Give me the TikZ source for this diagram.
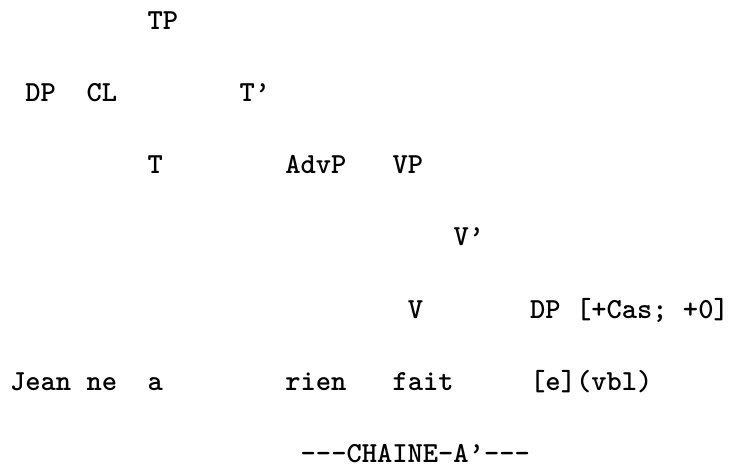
\documentclass[tikz,border=0pt]{standalone}
\begin{document}
\begin{tikzpicture}[x=1pt,y=1pt,
  lbl/.style={anchor=base west, inner sep=0pt, outer sep=0pt,
    font=\ttfamily\bfseries\fontsize{29.1}{30}\selectfont}]
  \path[use as bounding box] (0,0) rectangle (730,-470);
  % columns on a 15.3pt character grid, rows 72pt apart
  \node[lbl] (tp)    at (147.7,-30)  {TP};
  \node[lbl] (dp)    at (25.3,-102)  {DP};
  \node[lbl] (cl)    at (86.5,-102)  {CL};
  \node[lbl] (tbar)  at (239.5,-102) {T’};
  \node[lbl] (t)     at (147.7,-174) {T};
  \node[lbl] (advp)  at (285.4,-174) {AdvP};
  \node[lbl] (vp)    at (392.5,-174) {VP};
  \node[lbl] (vbar)  at (453.7,-246) {V’};
  \node[lbl] (v)     at (407.8,-318) {V};
  \node[lbl] (dpobj) at (530.2,-318) {DP [+Cas; +0]};
  \node[lbl] (jean)  at (10,-390)    {Jean};
  \node[lbl] (ne)    at (86.5,-390)  {ne};
  \node[lbl] (a)     at (147.7,-390) {a};
  \node[lbl] (rien)  at (285.4,-390) {rien};
  \node[lbl] (fait)  at (392.5,-390) {fait};
  \node[lbl] (trace) at (530.2,-390) {[e](vbl)};
  \node[lbl] (chain) at (300.7,-462) {---CHAINE-A’---};
\end{tikzpicture}
\end{document}
